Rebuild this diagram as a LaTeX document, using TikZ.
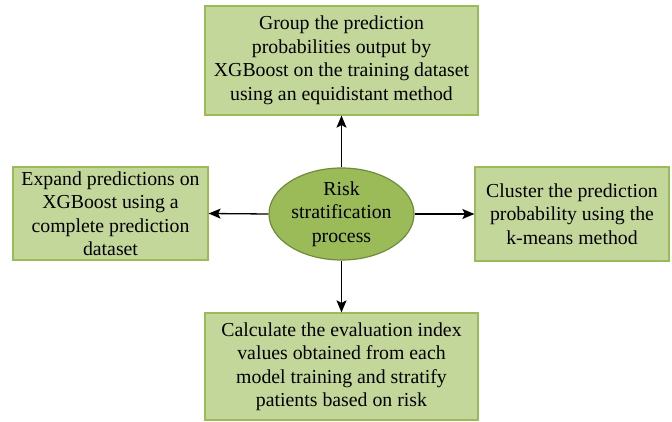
\documentclass[tikz,border=0pt]{standalone}
\usepackage{fontspec}
\setmainfont{Liberation Serif}
\usetikzlibrary{shapes.geometric,arrows.meta}
\definecolor{boxfill}{HTML}{C4D79B}
\definecolor{boxline}{HTML}{9BBB59}
\definecolor{ellfill}{HTML}{9BBB59}
\definecolor{ellline}{HTML}{6E8B3D}
\begin{document}
\begin{tikzpicture}[x=1pt,y=-1pt,
  stepbox/.style={draw=boxline,fill=boxfill,line width=1.2pt,align=center,inner sep=0pt,
    font=\fontsize{19.8}{23.5}\selectfont,anchor=center},
  conn/.style={-{Stealth[length=12pt,width=10pt,inset=2.5pt]},line width=1.3pt,black}]
\useasboundingbox (0,0) rectangle (672,422);
\node[stepbox,minimum width=273pt,minimum height=109pt] (top) at (341.5,60.5)
  {Group the prediction\\probabilities output by\\XGBoost on the training dataset\\using an equidistant method};
\node[stepbox,minimum width=195pt,minimum height=93pt] (left) at (110.5,213.5)
  {Expand predictions on\\XGBoost using a\\complete prediction\\dataset};
\node[stepbox,minimum width=194pt,minimum height=94pt] (right) at (572,214)
  {Cluster the prediction\\probability using the\\k-means method};
\node[stepbox,minimum width=273pt,minimum height=107pt] (bottom) at (341.5,366.5)
  {Calculate the evaluation index\\values obtained from each\\model training and stratify\\patients based on risk};
\node[ellipse,draw=ellline,fill=ellfill,line width=1.2pt,minimum width=145pt,minimum height=92pt,
  inner sep=0pt,align=center,font=\fontsize{19.8}{23.5}\selectfont] (mid) at (341.5,214)
  {Risk\\stratification\\process};
\draw[conn] (mid.north) -- (top.south);
\draw[conn] (mid.west) -- (left.east);
\draw[conn] (mid.east) -- (right.west);
\draw[conn] (mid.south) -- (bottom.north);
\end{tikzpicture}
\end{document}
